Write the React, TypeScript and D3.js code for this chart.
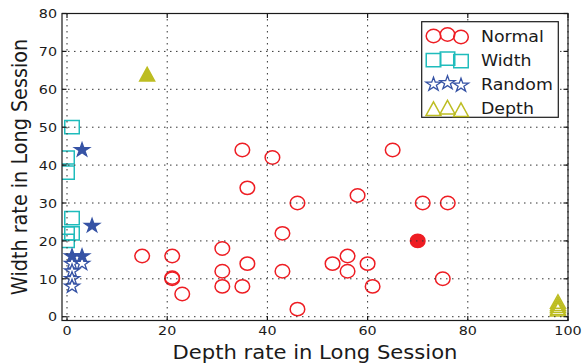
import React from 'react';
import * as d3 from 'd3';

// [depth rate, width rate] pairs
const normalPoints = [
  [35, 44], [41, 42], [65, 44], [36, 34], [46, 30], [58, 32], [71, 30], [76, 30],
  [43, 22], [31, 18], [36, 14], [31, 12], [43, 12], [53, 14], [56, 16], [56, 12],
  [60, 14], [31, 8], [35, 8], [61, 8], [75, 10], [46, 2], [23, 6], [15, 16],
  [21, 16], [21, 10], [21, 10.3],
];
const normalFilled = [[70, 20]];
const widthPoints = [[1, 50], [0, 42], [0, 38], [1, 26], [1, 22], [0, 22], [0, 20]];
const randomPoints = [[1, 14], [3, 14], [1, 12], [1, 10], [1, 8]];
const randomFilled = [[3, 44], [5, 24], [1, 16], [3, 16]];
const depthPoints = [[98, 4], [98, 3.4], [98, 2.9], [98, 2.3], [98, 2]];
const depthFilled = [[16, 64]];

const xTicks = [0, 20, 40, 60, 80, 100];
const yTicks = [0, 10, 20, 30, 40, 50, 60, 70, 80];
const legendLabels = ['Normal', 'Width', 'Random', 'Depth'];

const RED = '#ee1d23';
const CYAN = '#1fbcbc';
const BLUE = '#3653a5';
const OLIVE = '#bdbd22';
const INK = '#1a1a1a';
const FONT = 'DejaVu Sans';
const SX = 1.1; // the picture is stretched a bit horizontally

const square = (s: number) =>
  `M${-s * SX},${-s}H${s * SX}V${s}H${-s * SX}Z`;
const triangle = (s: number) => `M0,${-s}L${s * SX},${s}L${-s * SX},${s}Z`;
const star = (r: number) => {
  const p = d3.path();
  for (let i = 0; i < 10; i++) {
    const a = -Math.PI / 2 + (i * Math.PI) / 5;
    const rr = i % 2 === 0 ? r : r * 0.382;
    const x = rr * Math.cos(a) * SX;
    const y = rr * Math.sin(a);
    if (i === 0) p.moveTo(x, y);
    else p.lineTo(x, y);
  }
  p.closePath();
  return p.toString();
};

const Marker = ({ kind, x, y, filled }: any) => {
  if (kind === 'circle')
    return (
      <ellipse cx={x} cy={y} rx={7.3} ry={6.7} fill={filled ? RED : 'none'}
        stroke={RED} strokeWidth={1.5} />
    );
  if (kind === 'square')
    return (
      <path d={square(6.6)} transform={`translate(${x},${y})`} fill='none'
        stroke={CYAN} strokeWidth={1.5} />
    );
  if (kind === 'star')
    return (
      <path d={star(7.2)} transform={`translate(${x},${y})`}
        fill={filled ? BLUE : '#fff'} stroke={BLUE} strokeWidth={1.3}
        strokeLinejoin='miter' />
    );
  return (
    <path d={triangle(6.8)} transform={`translate(${x},${y})`}
      fill={filled ? OLIVE : 'none'} stroke={OLIVE} strokeWidth={1.5} />
  );
};

const App = () => {
  const width = 584;
  const height = 364;

  const x = d3.scaleLinear().domain([-1, 100]).range([62, 568]);
  const y = d3.scaleLinear().domain([-1, 80]).range([320.5, 13.5]);
  const [x0, x1] = x.range();
  const [y0, y1] = y.range();

  const series = [
    { kind: 'circle', data: normalPoints, filled: false },
    { kind: 'circle', data: normalFilled, filled: true },
    { kind: 'square', data: widthPoints, filled: false },
    { kind: 'star', data: randomPoints, filled: false },
    { kind: 'star', data: randomFilled, filled: true },
    { kind: 'triangle', data: depthPoints, filled: false },
    { kind: 'triangle', data: depthFilled, filled: true },
  ];
  const legendKinds = ['circle', 'square', 'star', 'triangle'];
  const legendDx = [433.5, 447.5, 461];
  const legendDy = [0, -1.5, 1];

  return (
    <svg width={width} height={height}
      style={{ position: 'absolute', left: 0, top: 0, background: '#fff' }}>
      <defs>
        <clipPath id='plot'>
          <rect x={x0} y={y1} width={x1 - x0} height={y0 - y1} />
        </clipPath>
      </defs>

      <g clipPath='url(#plot)'>
        {series.map((s, i) =>
          s.data.map((d, j) => (
            <Marker key={`${i}-${j}`} kind={s.kind} x={x(d[0])} y={y(d[1])}
              filled={s.filled} />
          ))
        )}
      </g>

      {/* dotted grid sits above the markers */}
      <g stroke='#333' strokeWidth={1} strokeDasharray='1.5,4.5'>
        {xTicks.map((t) => (
          <line key={`gx${t}`} x1={x(t)} x2={x(t)} y1={y0} y2={y1} />
        ))}
        {yTicks.map((t) => (
          <line key={`gy${t}`} x1={x0} x2={x1} y1={y(t)} y2={y(t)} />
        ))}
      </g>

      <g stroke={INK} strokeWidth={1.2}>
        {xTicks.map((t) => (
          <g key={`tx${t}`}>
            <line x1={x(t)} x2={x(t)} y1={y0} y2={y0 - 4.5} />
            <line x1={x(t)} x2={x(t)} y1={y1} y2={y1 + 4.5} />
          </g>
        ))}
        {yTicks.map((t) => (
          <g key={`ty${t}`}>
            <line x1={x0} x2={x0 + 4.5} y1={y(t)} y2={y(t)} />
            <line x1={x1} x2={x1 - 4.5} y1={y(t)} y2={y(t)} />
          </g>
        ))}
        <rect x={x0} y={y1} width={x1 - x0} height={y0 - y1} fill='none' />
      </g>

      <g fontFamily={FONT} fontSize={13} fill={INK}>
        {xTicks.map((t) => (
          <text key={`lx${t}`} transform={`translate(${x(t)},335) scale(${SX},1)`}
            textAnchor='middle'>{t}</text>
        ))}
        {yTicks.map((t) => (
          <text key={`ly${t}`} transform={`translate(57,${y(t) + 4.7}) scale(${SX},1)`}
            textAnchor='end'>{t}</text>
        ))}
      </g>

      <text transform={`translate(${(x0 + x1) / 2},359) scale(${SX},1)`}
        textAnchor='middle' fontFamily={FONT} fontSize={19.2} fill={INK}>
        Depth rate in Long Session
      </text>
      <text transform={`translate(26.5,${(y0 + y1) / 2}) rotate(-90) scale(1,${SX})`}
        textAnchor='middle' fontFamily={FONT} fontSize={19.2} fill={INK}>
        Width rate in Long Session
      </text>

      <g>
        <rect x={421.7} y={21.7} width={136.6} height={95.6} fill='#fff'
          stroke={INK} strokeWidth={1.2} />
        {legendLabels.map((label, i) => {
          const cy = 36 + i * 24.2;
          return (
            <g key={label}>
              {legendDx.map((lx, k) => (
                <Marker key={k} kind={legendKinds[i]} x={lx} y={cy + legendDy[k]}
                  filled={false} />
              ))}
              <text transform={`translate(481,${cy + 5.6}) scale(${SX},1)`}
                fontFamily={FONT} fontSize={15.8} fill={INK}>{label}</text>
            </g>
          );
        })}
      </g>
    </svg>
  );
};

export default App;
